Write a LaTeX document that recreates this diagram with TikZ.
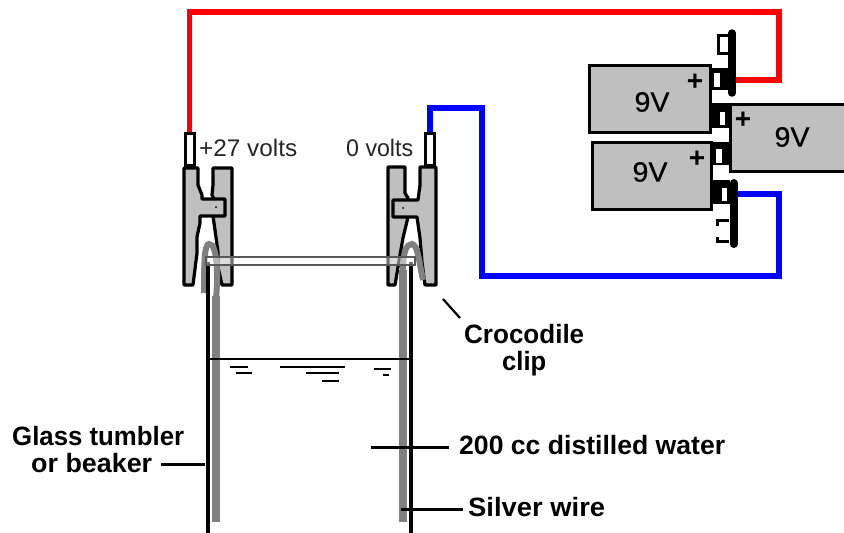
\documentclass[tikz,border=0pt]{standalone}
\usepackage{graphicx}
\usepackage{fontspec}
\setmainfont{Liberation Sans}
\newfontfamily\semibold[FakeBold=0.6]{Liberation Sans}
\newcommand{\fitw}[2]{\resizebox{#1pt}{\height}{#2}}
\tikzset{
  x=1pt,y=-1pt,
  wire/.style={line width=5.6pt,line join=miter},
  redwire/.style={wire,draw={rgb,255:red,255;green,0;blue,0}},
  bluewire/.style={wire,draw={rgb,255:red,0;green,0;blue,255}},
  clipbody/.style={draw=black,line width=3.2pt,fill=black!25,line join=round},
  terminal/.style={draw=black,line width=3pt,fill=white},
  silver/.style={draw=black!50,line width=7.6pt},
  silverhook/.style={draw=black!50,line width=6pt},
  glass/.style={draw=black,line width=3.4pt},
  ripple/.style={draw=black,line width=1.7pt},
  leader/.style={draw=black,line width=3pt},
  battery/.style={draw=black,line width=3pt,fill=black!25},
  label/.style={inner sep=0pt,anchor=base west,font=\fontsize{26.5}{26.5}\selectfont\bfseries},
  thin label/.style={inner sep=0pt,anchor=base west,font=\fontsize{24}{24}\selectfont,text=black!85},
  volt/.style={inner sep=0pt,font=\fontsize{28}{28}\semibold,text=black},
  plus/.style={inner sep=0pt,font=\fontsize{28}{28}\selectfont\bfseries},
  blackfill/.style={fill=black,draw=none},
  whiteinset/.style={fill=white,draw=none},
}
\begin{document}
\begin{tikzpicture}
\clip (0,0) rectangle (844,533);
% anchors
\coordinate (tlTop) at (189.5,133);
\coordinate (trTop) at (430,133);
\coordinate (redEnd) at (735,80);
\coordinate (blueEnd) at (737,194);
\coordinate (redTop) at (779,12);
\coordinate (blueUp) at (430,108);
\coordinate (blueA) at (482,108);
\coordinate (blueB) at (482,276);
\coordinate (blueC) at (779,276);
% wires
\draw[redwire] (tlTop) -- (tlTop |- redTop) -- (redTop) -- (redTop |- redEnd) -- (redEnd);
\draw[bluewire] (trTop) -- (blueUp) -- (blueA) -- (blueB) -- (blueC) -- (blueC |- blueEnd) -- (blueEnd);
% left clip
\draw[clipbody] (213,168) -- (232,168) -- (232,285) -- (222,285) -- (218,267) -- (218,252) -- (215,230) -- (213,216) -- (214,199) -- (212,195) -- (213,185) -- cycle;
\draw[clipbody] (184,168) -- (198,168) -- (198,185) -- (202,195) -- (202,199) -- (225,199) -- (225,216) -- (200,216) -- (200,223) -- (197,237) -- (197,253) -- (193,285) -- (184,285) -- cycle;
\fill (216,207) circle (1pt);
% right clip
\draw[clipbody] (388,167) -- (405,167) -- (405,193) -- (408,198) -- (408,217) -- (403,238) -- (400,255) -- (395,285) -- (388,285) -- cycle;
\draw[clipbody] (420,167) -- (436,167) -- (436,285) -- (425,285) -- (422,262) -- (420,238) -- (417,217) -- (393,217) -- (393,200) -- (418,200) -- (420,185) -- cycle;
\fill (403,208) circle (1pt);
% silver wires
\draw[silver] (216,522) -- (216,296);
\draw[silverhook] (216,298) .. controls (218,280) and (218,243) .. (209,244) .. controls (205,245) and (204,255) .. (204,293);
\draw[silver] (403,522) -- (403,270);
\draw[silverhook] (403,272) .. controls (403,252) and (406,244) .. (412,244) .. controls (418,245) and (419,262) .. (423,280);
% terminals
\node[terminal,minimum width=9pt,minimum height=32pt,inner sep=0pt] (tl) at (189.5,149) {};
\node[terminal,minimum width=9.5pt,minimum height=32pt,inner sep=0pt] (tr) at (430,149) {};
% glass
\draw[glass] (208,262) -- (208,533);
\draw[glass] (411,262) -- (411,533);
\draw[draw=black!65,line width=2pt,fill=white,fill opacity=.45] (205.5,257) rectangle (414.5,264.5);
\draw[draw=black,line width=1.7pt] (209,359) -- (411,359);
% ripples
\draw[ripple] (230,367) -- (248,367) (236,373) -- (252,373)
 (280,367) -- (345,367) (306,373) -- (339,373) (322,381) -- (339,381)
 (374,369) -- (391,369) (383,375) -- (389,375);
% batteries
\node[battery,minimum width=121pt,minimum height=67pt,inner sep=0pt] (b1) at (649.5,98.5) {};
\node[battery,minimum width=119pt,minimum height=67pt,inner sep=0pt] (b2) at (651.5,175.5) {};
% snaps
\fill[blackfill] (712,68) rectangle (730,90);
\fill[whiteinset] (714,73) rectangle (720,87);
\fill[blackfill] (711,103) rectangle (729,128);
\fill[whiteinset] (720,112) rectangle (725,125);
\fill[blackfill] (713,142) rectangle (730,165);
\fill[whiteinset] (716,149) rectangle (722,163);
\fill[blackfill] (712,180) rectangle (730,204);
\fill[whiteinset] (722,188) rectangle (727,201);
\node[battery,minimum width=122pt,minimum height=67pt,inner sep=0pt,anchor=north west] (b3) at (729,103) {};
\draw[line width=7.5pt,line cap=round] (732,33) -- (732,93);
\draw[line width=8pt,line cap=round] (733.5,183) -- (733.5,244);
\draw[draw=black,line width=3pt,fill=white] (728,35.5) -- (718.5,35.5) -- (718.5,53) -- (728,53);
\draw[draw=black,line width=3pt] (729,220.5) -- (717,220.5) -- (717,226);
\draw[draw=black,line width=3pt] (729,241) -- (717,241) -- (717,237);
% battery labels
\node[volt] (v1) at (652,102) {\fitw{35}{9V}};
\node[volt] (v2) at (650,172) {\fitw{35}{9V}};
\node[volt] (v3) at (792,137) {\fitw{35}{9V}};
\node[plus] (p1) at (695,82) {+};
\node[plus] (p2) at (697,159) {+};
\node[plus] (p3) at (743,120) {+};
% text
\node[thin label] (volts27) at (199,156) {\fitw{98}{+27 volts}};
\node[thin label] (volts0) at (346,156) {\fitw{67}{0 volts}};
\node[label] (croc1) at (464,343) {\fitw{120}{Crocodile}};
\node[label] (croc2) at (502,370) {\fitw{44}{clip}};
\node[label] (glass1) at (12,445) {\fitw{172}{Glass tumbler}};
\node[label] (glass2) at (31,472) {\fitw{121}{or beaker}};
\node[label] (water) at (459,454) {\fitw{266}{200 cc distilled water}};
\node[label] (silv) at (468,516) {\fitw{137}{Silver wire}};
% leaders
\coordinate (glassTip) at (205,464);
\coordinate (waterTip) at (371,447);
\coordinate (silvTip) at (401,509);
\coordinate (clipTip) at (443,299);
\coordinate (clipEnd) at (460,318);
\draw[leader] (glass2.east |- glassTip) ++(9,0) -- (glassTip);
\draw[leader] (water.west |- waterTip) ++(-10,0) -- (waterTip);
\draw[leader] (silv.west |- silvTip) ++(-5,0) -- (silvTip);
\draw[leader,line width=2.2pt] (clipTip) -- (clipEnd);
\end{tikzpicture}
\end{document}
